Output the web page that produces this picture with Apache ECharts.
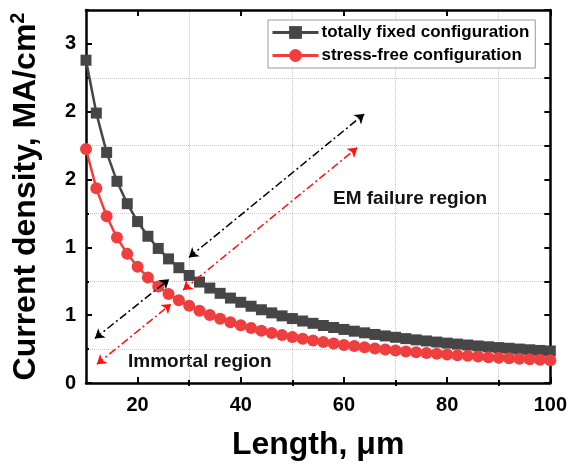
<!DOCTYPE html>
<html>
<head>
<meta charset="utf-8">
<script src="https://cdn.jsdelivr.net/npm/echarts@6/dist/echarts.min.js"></script>
<style>
  html, body { margin: 0; padding: 0; background: #fff; }
  #chart { width: 570px; height: 466px; }
</style>
</head>
<body>
<div id="chart"></div>
<script>
// Interconnect length (µm)
const lengths = [10,12,14,16,18,20,22,24,26,28,30,32,34,36,38,40,42,44,46,48,50,
  52,54,56,58,60,62,64,66,68,70,72,74,76,78,80,82,84,86,88,90,92,94,96,98,100];

// Critical current density (MA/cm²), totally fixed configuration
const fixedDensity = [2.38,1.99,1.70,1.487,1.322,1.19,1.082,0.992,0.915,0.85,0.793,
  0.744,0.70,0.661,0.626,0.595,0.566,0.54,0.517,0.495,0.475,0.457,0.44,0.424,0.409,
  0.395,0.382,0.37,0.358,0.347,0.337,0.327,0.318,0.31,0.302,0.294,0.287,0.28,0.273,
  0.267,0.261,0.256,0.25,0.245,0.24,0.236];

// Critical current density (MA/cm²), stress-free configuration
const freeDensity = [1.725,1.435,1.23,1.072,0.952,0.857,0.778,0.712,0.657,0.61,0.569,
  0.533,0.501,0.473,0.448,0.425,0.405,0.386,0.369,0.353,0.339,0.326,0.313,0.302,0.291,
  0.281,0.272,0.263,0.255,0.247,0.24,0.233,0.227,0.221,0.215,0.21,0.205,0.2,0.195,
  0.19,0.186,0.182,0.178,0.175,0.171,0.168];

const seriesNames = ['totally fixed configuration', 'stress-free configuration'];

// Axis tick positions
const xMajorTicks = [20, 40, 60, 80, 100];
const xMinorTicks = [30, 50, 70, 90];
const yMajorTicks = [0, 0.5, 1, 1.5, 2, 2.5];
const yMinorTicks = [0.25, 0.75, 1.25, 1.75, 2.25, 2.75];

// Double-headed arrows separating the two regions: [start, end] in data units
const fixedArrows = [
  [[11.73, 0.328], [26.12, 0.765]],
  [[29.96, 0.926], [63.92, 1.983]]
];
const freeArrows = [
  [[12.11, 0.138], [26.5, 0.583]],
  [[28.81, 0.685], [62.58, 1.735]]
];

const FONT = 'Liberation Sans, Arial, sans-serif';
const X_MIN = 10, X_MAX = 100, Y_MIN = 0, Y_MAX = 2.75;
const DARK = '#464646';
const RED = '#ee3e3e';
const GRID_LINE = { show: true, lineStyle: { color: '#c9c9c9', type: 'dotted', width: 1 } };
const FRAME = { show: true, onZero: false, lineStyle: { color: '#000', width: 2.5 } };

function xAxisDef(position, ticks, len, opts) {
  return Object.assign({
    type: 'value', position: position, min: X_MIN, max: X_MAX, gridIndex: 0,
    axisLine: { show: false },
    axisTick: { show: true, inside: true, length: len, customValues: ticks,
      lineStyle: { color: '#000', width: 2 } },
    axisLabel: { show: false },
    splitLine: { show: false }
  }, opts || {});
}
function yAxisDef(position, ticks, len, opts) {
  return Object.assign({
    type: 'value', position: position, min: Y_MIN, max: Y_MAX, gridIndex: 0,
    axisLine: { show: false },
    axisTick: { show: true, inside: true, length: len, customValues: ticks,
      lineStyle: { color: '#000', width: 2 } },
    axisLabel: { show: false },
    splitLine: { show: false }
  }, opts || {});
}

function arrowLines(pairs) {
  return pairs.map(p => [{ coord: p[0] }, { coord: p[1] }]);
}

const chart = echarts.init(document.getElementById('chart'), null, { renderer: 'canvas' });

chart.setOption({
  animation: false,
  backgroundColor: '#fff',
  textStyle: { fontFamily: FONT },
  grid: { left: 84, right: 17, top: 10, bottom: 79, containLabel: false },
  legend: {
    orient: 'vertical',
    left: 268, top: 20,
    padding: [4, 6, 4, 3],
    itemGap: 6,
    itemWidth: 46, itemHeight: 16,
    backgroundColor: '#fff',
    borderColor: '#9a9a9a', borderWidth: 1,
    lineStyle: { width: 3 },
    textStyle: { fontFamily: FONT, fontSize: 17, fontWeight: 'bold', color: '#000', padding: [0, 0, 0, -2] },
    data: seriesNames
  },
  xAxis: [
    xAxisDef('bottom', xMajorTicks, 6, {
      axisLine: FRAME,
      axisLabel: { show: true, customValues: xMajorTicks, margin: 12,
        fontFamily: FONT, fontSize: 20, fontWeight: 'bold', color: '#000' },
      name: 'Length, \u03bcm', nameLocation: 'middle', nameGap: 46,
      nameTextStyle: { fontFamily: FONT, fontSize: 32, fontWeight: 'bold', color: '#000' }
    }),
    xAxisDef('bottom', xMinorTicks, 3, { interval: 10, splitLine: GRID_LINE }),
    xAxisDef('top', xMajorTicks, 6, { axisLine: FRAME }),
    xAxisDef('top', xMinorTicks, 3)
  ],
  yAxis: [
    yAxisDef('left', yMajorTicks, 6, {
      axisLine: FRAME,
      axisLabel: { show: true, customValues: yMajorTicks, margin: 10,
        fontFamily: FONT, fontSize: 20, fontWeight: 'bold', color: '#000',
        formatter: v => String(Math.round(v)) },
      name: '{m|Current density, MA/cm}{s|2}', nameLocation: 'middle', nameGap: 42,
      nameTextStyle: { fontFamily: FONT, color: '#000',
        rich: {
          m: { fontFamily: FONT, fontSize: 32, fontWeight: 'bold', color: '#000', lineHeight: 36 },
          s: { fontFamily: FONT, fontSize: 20, fontWeight: 'bold', color: '#000', verticalAlign: 'top', lineHeight: 36, padding: [0, 0, 14, 0] }
        } }
    }),
    yAxisDef('left', yMinorTicks, 3, { interval: 0.25, splitLine: GRID_LINE }),
    yAxisDef('right', yMajorTicks, 6, { axisLine: FRAME }),
    yAxisDef('right', yMinorTicks, 6)
  ],
  graphic: [
    { type: 'text', left: 333, top: 189, silent: true,
      style: { text: 'EM failure region', fontFamily: FONT, fontSize: 19, fontWeight: 'bold', fill: '#111' } },
    { type: 'text', left: 128, top: 352, silent: true,
      style: { text: 'Immortal region', fontFamily: FONT, fontSize: 19, fontWeight: 'bold', fill: '#111' } }
  ],
  series: [
    {
      name: seriesNames[0], type: 'line', xAxisIndex: 0, yAxisIndex: 0,
      data: lengths.map((x, i) => [x, fixedDensity[i]]),
      clip: false,
      symbol: 'rect', symbolSize: 11,
      lineStyle: { color: DARK, width: 2.5 },
      itemStyle: { color: DARK },
      z: 3,
      markLine: {
        silent: true, animation: false,
        symbol: ['arrow', 'arrow'], symbolSize: 9,
        label: { show: false },
        lineStyle: { color: '#000', width: 1.5, type: [8, 3, 2, 3] },
        emphasis: { disabled: true },
        data: arrowLines(fixedArrows)
      }
    },
    {
      name: seriesNames[1], type: 'line', xAxisIndex: 0, yAxisIndex: 0,
      data: lengths.map((x, i) => [x, freeDensity[i]]),
      clip: false,
      symbol: 'circle', symbolSize: 12,
      lineStyle: { color: RED, width: 2.5 },
      itemStyle: { color: RED },
      z: 4,
      markLine: {
        silent: true, animation: false,
        symbol: ['arrow', 'arrow'], symbolSize: 9,
        label: { show: false },
        lineStyle: { color: '#ff1010', width: 1.5, type: [8, 3, 2, 3] },
        emphasis: { disabled: true },
        data: arrowLines(freeArrows)
      }
    }
  ]
});
</script>
</body>
</html>
